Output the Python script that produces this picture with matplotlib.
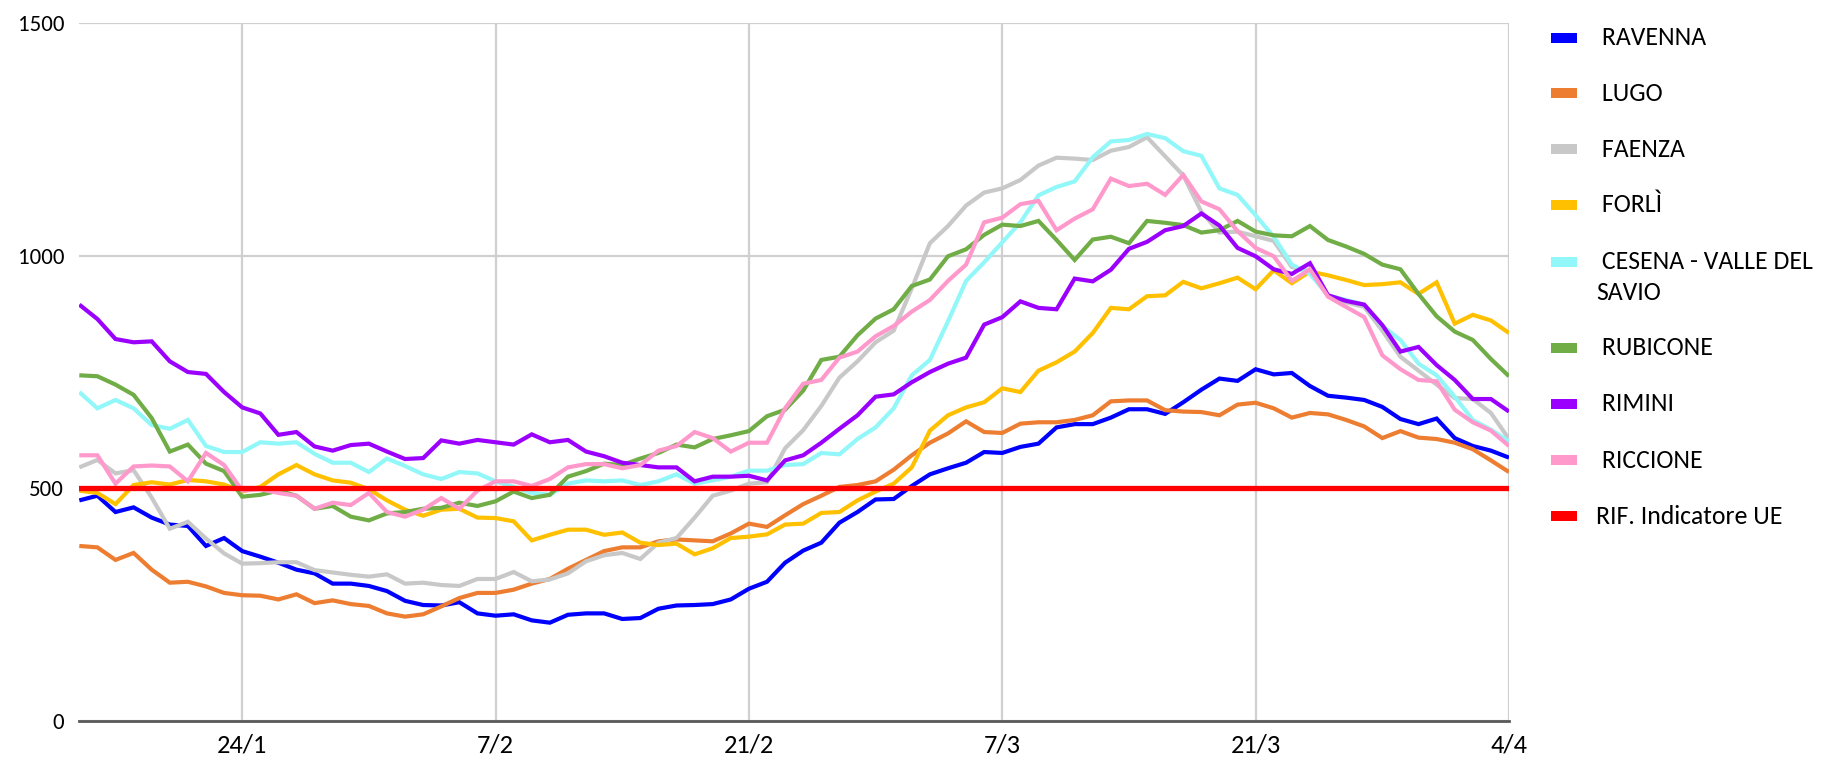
import numpy as np
import pandas as pd
import matplotlib
matplotlib.use("Agg")
import matplotlib.pyplot as plt
from matplotlib import font_manager
from matplotlib.patches import Rectangle

# ---------------- data ----------------
dates = pd.date_range("2021-01-15", "2021-04-04", freq="D")

tick_dates = ["2021-01-24", "2021-02-07", "2021-02-21", "2021-03-07", "2021-03-21", "2021-04-04"]
tick_labels = ["24/1", "7/2", "21/2", "7/3", "21/3", "4/4"]
y_ticks = [0, 500, 1000, 1500]

ravenna = [474, 484, 449, 459, 437, 422, 419, 376, 393, 365, 353, 340, 325, 317, 295, 295, 290, 279, 258, 249,
           248, 255, 231, 226, 229, 216, 211, 228, 231, 231, 219, 221, 241, 248, 249, 251, 261, 284, 299, 340,
           366, 383, 426, 449, 476, 477, 505, 530, 543, 555, 578, 576, 589, 596, 631, 638, 638, 652, 670, 670,
           660, 685, 712, 736, 731, 756, 745, 748, 720, 699, 695, 690, 675, 649, 638, 650, 608, 591, 581, 566]
lugo = [376, 373, 346, 361, 325, 297, 299, 289, 275, 270, 269, 261, 272, 253, 259, 251, 247, 231, 224, 229,
        246, 264, 275, 275, 282, 295, 305, 327, 346, 365, 373, 373, 386, 390, 388, 386, 403, 424, 417, 442,
        466, 484, 503, 507, 515, 540, 571, 598, 618, 644, 621, 619, 639, 642, 642, 647, 657, 687, 689, 689,
        668, 665, 664, 657, 680, 684, 672, 652, 662, 659, 647, 633, 608, 623, 609, 606, 598, 584, 560, 535]
faenza = [545, 561, 532, 539, 480, 413, 428, 392, 360, 338, 339, 341, 341, 324, 319, 314, 310, 315, 295, 297,
          292, 290, 305, 305, 320, 300, 304, 317, 343, 356, 361, 348, 383, 393, 437, 484, 495, 510, 513, 586,
          625, 677, 738, 773, 814, 839, 930, 1027, 1064, 1108, 1136, 1145, 1163, 1194, 1211, 1209, 1206, 1226, 1234, 1255,
          1214, 1173, 1095, 1050, 1052, 1042, 1032, 976, 966, 915, 900, 890, 839, 783, 753, 723, 694, 692, 662, 606]
forli = [495, 490, 466, 507, 513, 508, 518, 515, 508, 493, 503, 530, 550, 530, 517, 512, 498, 474, 454, 441,
         454, 456, 437, 436, 429, 388, 400, 411, 411, 400, 405, 383, 378, 381, 358, 371, 393, 396, 401, 422,
         424, 447, 449, 474, 493, 510, 545, 624, 657, 674, 685, 715, 707, 753, 771, 794, 834, 888, 885, 913,
         915, 944, 930, 941, 953, 928, 969, 941, 966, 958, 948, 937, 939, 943, 918, 943, 854, 873, 861, 834]
cesena = [707, 672, 690, 672, 636, 628, 647, 591, 578, 578, 599, 596, 599, 574, 555, 555, 535, 564, 548, 530,
          520, 535, 532, 515, 503, 490, 486, 510, 517, 515, 517, 507, 515, 530, 510, 517, 525, 538, 538, 550,
          552, 576, 573, 606, 631, 672, 743, 776, 859, 946, 986, 1029, 1072, 1130, 1148, 1160, 1212, 1246, 1249, 1262,
          1253, 1225, 1215, 1145, 1131, 1087, 1041, 981, 961, 915, 905, 895, 849, 819, 768, 743, 697, 647, 626, 601]
rubicone = [743, 741, 723, 701, 651, 579, 594, 553, 537, 482, 486, 495, 484, 456, 462, 439, 431, 446, 449, 456,
            458, 469, 462, 472, 493, 479, 486, 525, 537, 553, 550, 564, 576, 594, 588, 606, 614, 623, 655, 669,
            710, 776, 783, 829, 865, 885, 935, 949, 999, 1014, 1045, 1067, 1064, 1075, 1034, 991, 1035, 1041, 1027, 1075,
            1071, 1066, 1050, 1055, 1075, 1052, 1044, 1042, 1064, 1034, 1020, 1004, 981, 971, 918, 870, 837, 819, 778, 741]
rimini = [895, 864, 821, 814, 816, 773, 750, 746, 707, 674, 661, 615, 621, 590, 581, 593, 596, 579, 563, 565,
          603, 596, 604, 599, 594, 616, 599, 604, 579, 569, 555, 550, 545, 545, 515, 525, 525, 527, 517, 560,
          571, 598, 628, 657, 697, 702, 728, 750, 768, 781, 852, 868, 902, 888, 885, 951, 945, 970, 1015, 1030,
          1055, 1064, 1091, 1065, 1017, 999, 971, 961, 984, 915, 903, 895, 851, 794, 804, 765, 733, 692, 692, 665]
riccione = [571, 571, 510, 547, 549, 547, 515, 576, 550, 495, 498, 490, 484, 456, 469, 464, 490, 449, 439, 454,
            479, 456, 495, 515, 515, 505, 520, 545, 552, 552, 543, 550, 581, 591, 621, 608, 579, 598, 598, 672,
            725, 733, 781, 794, 827, 849, 880, 905, 946, 981, 1072, 1082, 1111, 1118, 1055, 1080, 1100, 1166, 1150, 1155,
            1131, 1174, 1117, 1100, 1053, 1017, 999, 946, 971, 912, 890, 868, 786, 756, 733, 730, 669, 642, 624, 591]
rif_ue = 500

series_names = [" RAVENNA", " LUGO", " FAENZA", " FORLÌ", " CESENA - VALLE DEL\nSAVIO",
                " RUBICONE", " RIMINI", " RICCIONE"]
series_values = [ravenna, lugo, faenza, forli, cesena, rubicone, rimini, riccione]
series_colors = ["#0000FF", "#ED7D31", "#C8C8C8", "#FFC000", "#92F7F8",
                 "#70AD47", "#9B00FF", "#FF99CC"]
rif_name = "RIF. Indicatore UE"
rif_color = "#FF0000"

# ---------------- fonts ----------------
avail = {f.name for f in font_manager.fontManager.ttflist}
family = "DejaVu Sans"
for cand in ["Carlito", "Lato", "Open Sans"]:
    if cand in avail:
        family = cand
        break
plt.rcParams["font.family"] = [family, "DejaVu Sans"]

W, H = 1823, 764
fig = plt.figure(figsize=(W / 100, H / 100), dpi=100)

# plot area in pixels
x0, x1, ytop, ybot = 79.3, 1509.0, 23.3, 720.8
ax = fig.add_axes([x0 / W, 1 - ybot / H, (x1 - x0) / W, (ybot - ytop) / H])

for vals, col in zip(series_values, series_colors):
    ax.plot(dates, vals, color=col, lw=3.0, solid_joinstyle="miter", solid_capstyle="butt", zorder=3)
ax.plot(dates, np.full(len(dates), rif_ue), color=rif_color, lw=3.8, zorder=4)

ax.set_xlim(dates[0], dates[-1])
ax.set_ylim(0, 1500)
ax.set_yticks(y_ticks)
ax.set_yticklabels([str(v) for v in y_ticks], fontsize=16.5, color="#000000")
ax.set_xticks(pd.to_datetime(tick_dates))
ax.set_xticklabels(tick_labels, fontsize=19, color="#000000")
ax.tick_params(axis="both", length=0)
ax.tick_params(axis="y", pad=11)
ax.tick_params(axis="x", pad=9)

ax.grid(True, color="#D0D0D0", lw=1.6, zorder=0)
ax.set_axisbelow(True)
for s in ["left", "right", "top"]:
    ax.spines[s].set_visible(False)
ax.spines["bottom"].set_color("#595959")
ax.spines["bottom"].set_linewidth(2.0)
ax.spines["bottom"].set_zorder(5)

# ---------------- legend (manual, right side) ----------------
def fx(px):
    return px / W

def fy(py):
    return 1 - py / H

entry_y = [37.7, 93.3, 149.3, 205.0, 261.7, 347.7, 404.0, 460.0]
patch_x, patch_w, patch_h = 1550.7, 26.6, 10.0
text_x = 1596.0
legend_fs = 18.5

for name, col, yc in zip(series_names, series_colors, entry_y):
    fig.add_artist(Rectangle((fx(patch_x), fy(yc + patch_h / 2)), patch_w / W, patch_h / H,
                             transform=fig.transFigure, color=col, lw=0))
    lines = name.split("\n")
    fig.text(fx(text_x), fy(yc), lines[0], fontsize=legend_fs, va="center", ha="left", color="#000000")
    if len(lines) > 1:
        fig.text(fx(text_x), fy(yc + 30.3), lines[1], fontsize=legend_fs, va="center", ha="left",
                 color="#000000")

yc = 516.0
fig.add_artist(Rectangle((fx(patch_x), fy(yc + patch_h / 2)), patch_w / W, patch_h / H,
                         transform=fig.transFigure, color=rif_color, lw=0))
fig.text(fx(text_x), fy(yc), rif_name, fontsize=legend_fs, va="center", ha="left", color="#000000")

fig.savefig("out.png", dpi=100, facecolor="white")
